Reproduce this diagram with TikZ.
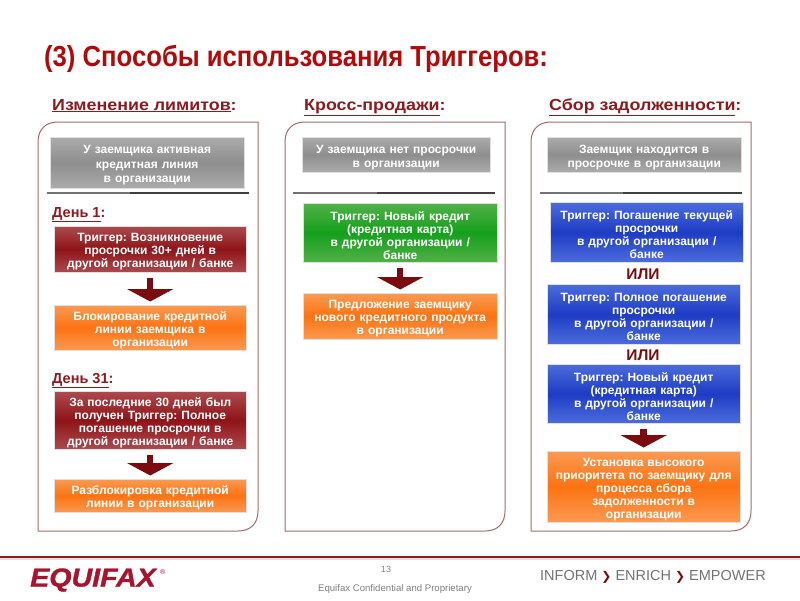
\documentclass[tikz,border=0pt]{standalone}
\usepackage{fontspec}
\setmainfont{Liberation Sans}
\newfontfamily\symfont{DejaVu Sans}
\newfontfamily\logofont{Liberation Sans}[UprightFont=* Bold Italic,RawFeature={embolden=1.2}]
\usetikzlibrary{arrows.meta}
\definecolor{head}{HTML}{8E1A20}
\definecolor{titlered}{HTML}{B00A0A}
\definecolor{arrowred}{HTML}{7A0C10}
\definecolor{panelline}{HTML}{A66A6A}
\definecolor{logored}{HTML}{A8142E}
\definecolor{gE}{HTML}{ABABAB}\definecolor{gM}{HTML}{8E8E8E}
\definecolor{rE}{HTML}{AC4A4E}\definecolor{rM}{HTML}{8E1418}
\definecolor{oE}{HTML}{FB9A52}\definecolor{oM}{HTML}{FC7312}
\definecolor{vE}{HTML}{52B048}\definecolor{vM}{HTML}{14A01C}
\definecolor{bE}{HTML}{4C6CDC}\definecolor{bM}{HTML}{1E3CC4}
\tikzset{
  x=1pt,y=-1pt,
  base/.style={anchor=north west,inner sep=0pt,align=center,text=white,font=\bfseries\fontsize{12}{13}\selectfont,draw=white!88!black,line width=.4pt},
  greybox/.style={base,top color=gE,bottom color=gE,middle color=gM},
  redbox/.style={base,top color=rE,bottom color=rE,middle color=rM},
  orangebox/.style={base,top color=oE,bottom color=oE,middle color=oM},
  greenbox/.style={base,top color=vE,bottom color=vE,middle color=vM},
  bluebox/.style={base,top color=bE,bottom color=bE,middle color=bM},
  panel/.style={draw=panelline,line width=1pt},
  heading/.style={anchor=base west,inner sep=0pt,text=head,font=\bfseries\fontsize{16}{18}\selectfont,xscale=1.115},
  dayhead/.style={anchor=base west,inner sep=0pt,text=head,font=\bfseries\fontsize{14.5}{16}\selectfont},
  ornode/.style={inner sep=0pt,text=arrowred,font=\bfseries\fontsize{15.5}{17}\selectfont},
  flow/.style={draw=arrowred,line width=6.5pt,shorten <=5.5pt,shorten >=3.5pt,-{Triangle[width=46pt,length=12.5pt]}},
  rulel/.style={line width=1.2pt,draw=black!55},
  ruler/.style={line width=1.2pt,draw=black!75},
}
\newcommand{\bx}[7]{\node[#1,minimum width=#4-#2,minimum height=#5-#3,text width=#4-#2-2] (#6) at (#2,#3) {\rule{0pt}{14pt}#7};}
\begin{document}
\frenchspacing
\begin{tikzpicture}
\useasboundingbox (0,0) rectangle (800,600);
\fill[white] (0,0) rectangle (800,600);
\node[anchor=west,inner sep=0pt,text=titlered,font=\bfseries\fontsize{29}{32}\selectfont,xscale=.885] (title) at (44,59) {(3) Способы использования Триггеров:};
\node[heading] (h1) at (52,110) {\underline{Изменение лимитов}:};
\node[heading] (h2) at (304,110) {\underline{Кросс-продажи}:};
\node[heading] (h3) at (549,110) {\underline{Сбор задолженности}:};
% panels
\foreach \l/\r in {38/258,285/505,531/751}{
  \draw[panel] (\l+20,122) -- (\r,122) -- (\r,511) .. controls (\r,524) and (\r-8,531) .. (\r-20,531) -- (\l,531) -- (\l,142) .. controls (\l,129) and (\l+8,122) .. (\l+20,122) -- cycle;
}
% left
\bx{greybox}{50}{137}{244}{188}{a0}{У заемщика активная\\[1.5pt]кредитная линия\\[1.5pt]в организации}
\coordinate (r1a) at (47,193); \coordinate (r1b) at (130,193); \coordinate (r1c) at (249,193);
\draw[rulel] (r1a) -- (r1b); \draw[ruler] (r1b) -- (r1c);
\node[dayhead] (d1) at (52,217) {\underline{День 1}:};
\bx{redbox}{54}{226}{246}{272}{a1}{Триггер: Возникновение\\просрочки 30+ дней в\\другой организации / банке}
\bx{orangebox}{54}{305}{246}{350}{a2}{Блокирование кредитной\\линии заемщика в\\организации}
\node[dayhead] (d31) at (52,383) {\underline{День 31}:};
\bx{redbox}{54}{391}{246}{449}{a3}{За последние 30 дней был\\получен Триггер: Полное\\погашение просрочки в\\другой организации / банке}
\bx{orangebox}{54}{479}{246}{512}{a4}{Разблокировка кредитной\\линии в организации}
\draw[flow] (a1.south) -- (a2.north);
\draw[flow] (a3.south) -- (a4.north);
% middle
\bx{greybox}{302}{137}{490}{172}{b0}{У заемщика нет просрочки\\[1pt]в организации}
\coordinate (r2a) at (293,193); \coordinate (r2b) at (377,193); \coordinate (r2c) at (495,193);
\draw[rulel] (r2a) -- (r2b); \draw[ruler] (r2b) -- (r2c);
\bx{greenbox}{303}{203}{497}{262}{b1}{Триггер: Новый кредит\\(кредитная карта)\\в другой организации /\\банке}
\bx{orangebox}{303}{293}{497}{339}{b2}{Предложение заемщику\\нового кредитного продукта\\в организации}
\draw[flow] (b1.south) -- (b2.north);
% right
\bx{greybox}{547}{137}{741}{172}{c0}{Заемщик находится в\\[1pt]просрочке в организации}
\coordinate (r3a) at (540,193); \coordinate (r3b) at (623,193); \coordinate (r3c) at (742,193);
\draw[rulel] (r3a) -- (r3b); \draw[ruler] (r3b) -- (r3c);
\bx{bluebox}{550}{202}{743}{262}{c1}{Триггер: Погашение текущей\\просрочки\\в другой организации /\\банке}
\node[ornode] (or1) at (643,274) {ИЛИ};
\bx{bluebox}{547}{284}{740}{344}{c2}{Триггер: Полное погашение\\просрочки\\в другой организации /\\банке}
\node[ornode] (or2) at (643,355) {ИЛИ};
\bx{bluebox}{547}{364}{740}{423}{c3}{Триггер: Новый кредит\\(кредитная карта)\\в другой организации /\\банке}
\bx{orangebox}{547}{451}{740}{522}{c4}{Установка высокого\\приоритета по заемщику для\\процесса сбора\\задолженности в\\организации}
\draw[flow] (c3.south) -- (c4.north);
% footer
\fill[black!12] (0,558) rectangle (800,559.5);
\fill[head] (0,556) rectangle (800,558);
\node[anchor=west,inner sep=0pt,text=logored,font=\logofont\fontsize{26}{28}\selectfont,xscale=1.1] (logo) at (30,580) {EQUIFAX};
\node[anchor=west,inner sep=0pt,text=logored,font=\fontsize{7}{8}\selectfont] (reg) at (160,572) {®};
\node[inner sep=0pt,text=black!50,font=\fontsize{9}{10}\selectfont] (pg) at (386,569) {13};
\node[inner sep=0pt,text=black!50,font=\fontsize{9.6}{11}\selectfont] (conf) at (395,589) {Equifax Confidential and Proprietary};
\node[anchor=west,inner sep=0pt,text=black!55,font=\fontsize{14.5}{16}\selectfont] (tag) at (540,577) {INFORM {\color{arrowred}\symfont\bfseries\fontsize{12}{14}\selectfont ❯} ENRICH {\color{arrowred}\symfont\bfseries\fontsize{12}{14}\selectfont ❯} EMPOWER};
\end{tikzpicture}
\end{document}
